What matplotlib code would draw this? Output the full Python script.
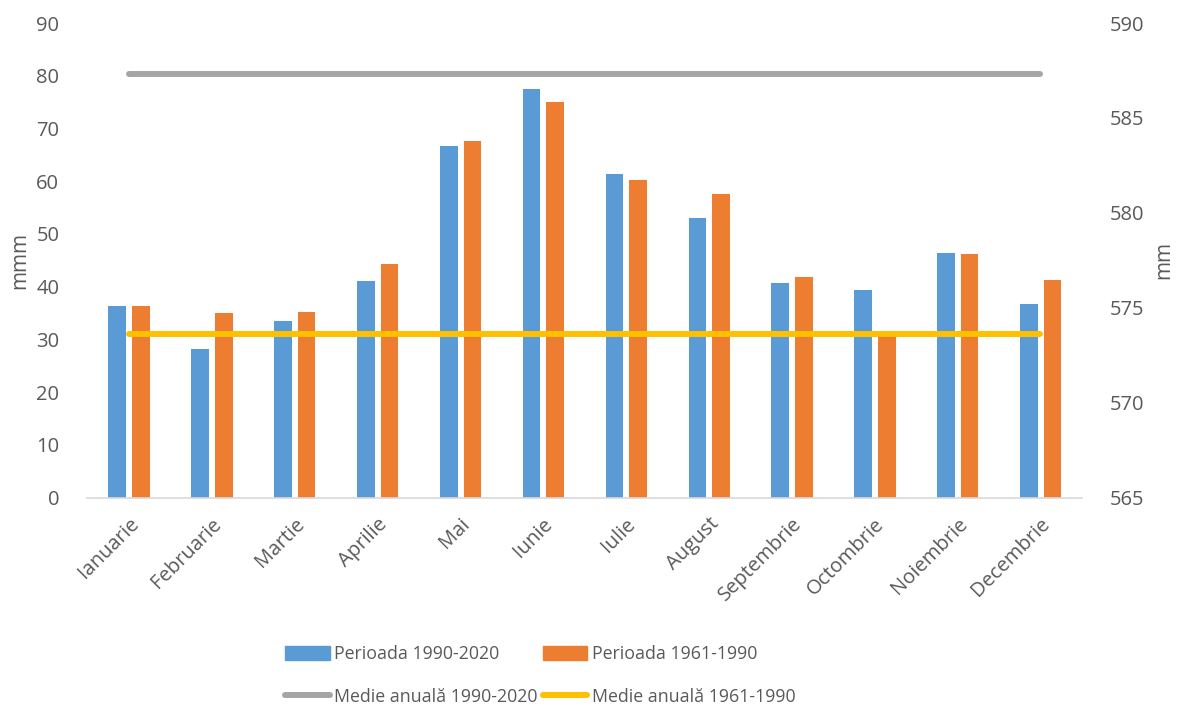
import matplotlib
matplotlib.use("Agg")
import matplotlib.pyplot as plt
import numpy as np
from matplotlib.patches import Patch
from matplotlib.lines import Line2D

plt.rcParams['font.family'] = ['Open Sans', 'DejaVu Sans']

luni = ["Ianuarie", "Februarie", "Martie", "Aprilie", "Mai", "Iunie", "Iulie",
        "August", "Septembrie", "Octombrie", "Noiembrie", "Decembrie"]
perioada_1990_2020 = [36.6, 28.3, 33.6, 41.2, 66.9, 77.7, 61.6, 53.2, 40.9, 39.5, 46.6, 36.9]
perioada_1961_1990 = [36.5, 35.1, 35.3, 44.5, 67.8, 75.2, 60.4, 57.8, 42.0, 30.8, 46.3, 41.4]
medie_1990_2020 = 587.3
medie_1961_1990 = 573.6

left_ticks = list(range(0, 91, 10))
right_ticks = list(range(565, 591, 5))

c_blue = "#5B9BD5"
c_orange = "#ED7D31"
c_gray = "#A5A5A5"
c_yellow = "#FFC000"
txt = "#595959"

fig = plt.figure(figsize=(11.77, 7.06), dpi=100)
ax = fig.add_axes([0.074, 0.2953, 0.845, 0.6721])
x = np.arange(len(luni))
w = 0.225
off = 0.142
ax.bar(x - off, perioada_1990_2020, width=w, color=c_blue, edgecolor="white", linewidth=0.7, zorder=2)
ax.bar(x + off, perioada_1961_1990, width=w, color=c_orange, edgecolor="white", linewidth=0.7, zorder=2)
ax.set_xlim(-0.5, len(luni) - 0.5)
ax.set_ylim(0, 90)
ax.set_yticks(left_ticks)
ax.set_xticks(x)
ax.set_xticklabels(luni, rotation=45, ha="right", rotation_mode="anchor")
for s in ["top", "right", "left"]:
    ax.spines[s].set_visible(False)
ax.spines["bottom"].set_color("#D9D9D9")
ax.spines["bottom"].set_linewidth(1.2)
ax.tick_params(axis="both", length=0, labelcolor=txt)
ax.tick_params(axis="y", pad=20, labelsize=14.5)
ax.tick_params(axis="x", pad=12, labelsize=14.5)
ax.set_ylabel("mmm", color=txt, fontsize=15, labelpad=4)

ax2 = ax.twinx()
ax2.plot(x, np.full(len(luni), medie_1990_2020), color=c_gray, linewidth=4.3, solid_capstyle="round", zorder=3)
ax2.plot(x, np.full(len(luni), medie_1961_1990), color=c_yellow, linewidth=4.3, solid_capstyle="round", zorder=3)
ax2.set_ylim(565, 590)
ax2.set_yticks(right_ticks)
for s in ["top", "right", "left", "bottom"]:
    ax2.spines[s].set_visible(False)
ax2.tick_params(axis="y", length=0, labelcolor=txt, labelsize=14.5, pad=20)
ax2.set_ylabel("mm", color=txt, fontsize=15, labelpad=7)

handles = [Patch(color=c_blue), Line2D([0], [0], color=c_gray, lw=4.3, solid_capstyle="round"),
           Patch(color=c_orange), Line2D([0], [0], color=c_yellow, lw=4.3, solid_capstyle="round")]
labels = ["Perioada 1990-2020", "Medie anuală 1990-2020", "Perioada 1961-1990", "Medie anuală 1961-1990"]
leg = fig.legend(handles, labels, ncol=2, loc="center", bbox_to_anchor=(0.459, 0.043),
                 frameon=False, fontsize=12.8, handlelength=2.5, handleheight=0.9,
                 handletextpad=0.25, columnspacing=0.3, labelspacing=1.4)
for t in leg.get_texts():
    t.set_color(txt)

fig.savefig("out.png", dpi=100)
